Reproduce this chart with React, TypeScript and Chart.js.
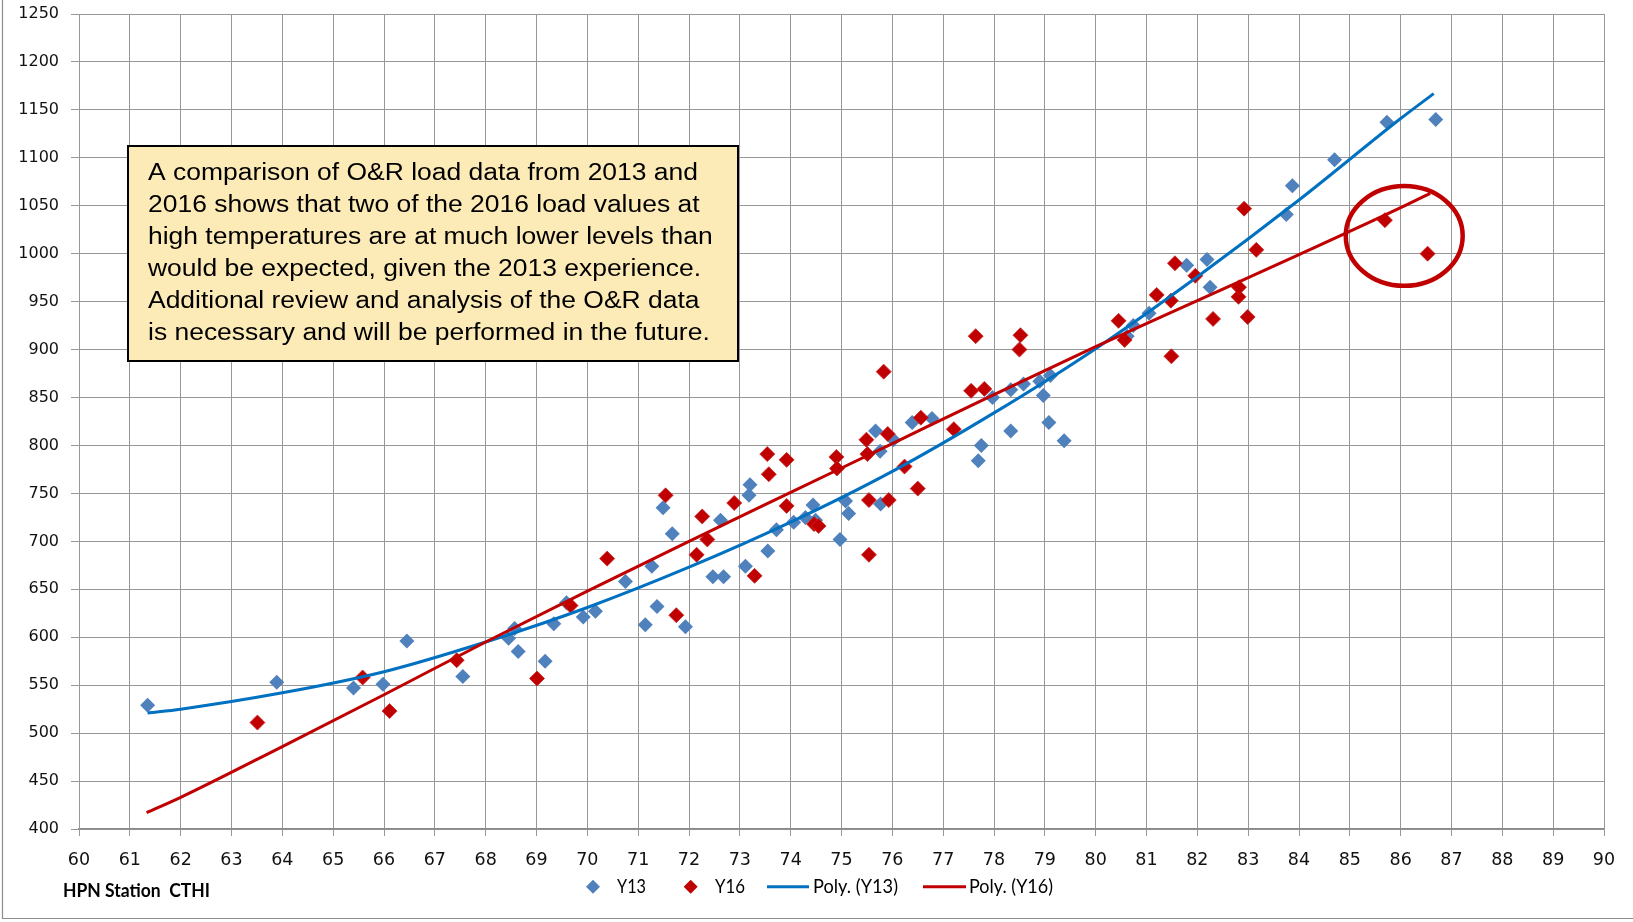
import React, { useEffect, useRef } from 'react';
import { Chart, registerables } from 'chart.js';

Chart.register(...registerables);

// ---- Data ----
const Y13_TEMP = [
  61.35, 63.89, 65.4, 65.98, 66.45, 67.55, 68.45, 68.57, 68.64, 69.17, 69.34, 69.59, 69.92, 70.16,
  70.75, 71.14, 71.27, 71.37, 71.49, 71.67, 71.93, 72.47, 72.62, 72.68, 73.11, 73.18, 73.2, 73.55,
  73.72, 74.06, 74.29, 74.44, 74.49, 74.97, 75.08, 75.14, 75.67, 75.76, 75.77, 76.02, 76.39, 76.78,
  77.69, 77.75, 77.97, 78.33, 78.33, 78.58, 78.9, 78.97, 79.08, 79.11, 79.38, 80.62, 80.74, 81.05,
  81.79, 82.19, 82.25, 83.75, 83.87, 84.7, 85.73, 86.69,
];
const Y13_LOAD = [
  529, 553, 547, 551, 596, 559, 599, 609, 585, 575, 614, 636, 621, 627,
  658, 613, 674, 632, 735, 708, 611, 663, 722, 663, 674, 748, 759, 690,
  712, 720, 725, 738, 722, 702, 742, 729, 815, 794, 739, 806, 824, 828,
  784, 800, 850, 858, 815, 864, 867, 852, 824, 873, 805, 914, 925, 938,
  988, 994, 965, 1041, 1071, 1098, 1137, 1140,
];
const Y16_TEMP = [
  63.51, 65.58, 66.11, 67.43, 69.01, 69.67, 70.39, 71.54, 71.75, 72.15, 72.26, 72.36, 72.89, 73.29,
  73.54, 73.57, 73.92, 73.92, 74.46, 74.55, 74.9, 74.91, 75.49, 75.51, 75.54, 75.54, 75.83, 75.91,
  75.93, 76.24, 76.5, 76.56, 77.21, 77.55, 77.64, 77.81, 78.5, 78.52, 80.45, 80.57, 81.2, 81.48,
  81.49, 81.56, 81.96, 82.31, 82.81, 82.82, 82.92, 82.99, 83.16, 85.69, 86.53,
];
const Y16_LOAD = [
  511, 558, 523, 576, 557, 633, 682, 748, 623, 686, 726, 702, 740, 664,
  791, 770, 785, 737, 718, 716, 788, 776, 806, 791, 743, 686, 877, 812,
  743, 778, 755, 829, 817, 857, 914, 859, 900, 915, 930, 910, 957, 951,
  893, 990, 977, 932, 955, 965, 1047, 934, 1004, 1035, 1000,
];
// Trend curves as drawn
const POLY13_TEMP = [61.35, 62, 64, 66, 68, 70, 72, 74, 76, 78, 80, 82, 84, 86, 86.65];
const POLY13_LOAD = [521, 525, 542, 564, 595, 631, 673, 720, 773, 834, 901, 976, 1056, 1141, 1167];
const POLY16_TEMP = [61.33, 62, 64, 66, 68, 70, 72, 74, 76, 78, 80, 82, 84, 86, 86.58];
const POLY16_LOAD = [417, 433, 486, 540, 595, 648, 700, 751, 802, 853, 903, 951, 999, 1048, 1063];

const X_MIN = 60;
const X_MAX = 90;
const X_STEP = 1;
const Y_MIN = 400;
const Y_MAX = 1250;
const Y_STEP = 50;

const SERIES_NAMES = ['Y13', 'Y16', 'Poly. (Y13)', 'Poly. (Y16)'];
const FOOTNOTE = 'HPN Station  CTHI';
const NOTE_LINES = [
  'A comparison of O&R load data from 2013 and',
  '2016 shows that two of the 2016 load values at',
  'high temperatures are at much lower levels than',
  'would be expected, given the 2013 experience.',
  'Additional review and analysis of the O&R data',
  'is necessary and will be performed in the future.',
];
// Highlight ellipse (data units): centre temp/load and radii
const HIGHLIGHT_CENTER = [86.07, 1018.5];
const HIGHLIGHT_RADIUS = [1.15, 52];

const BLUE_MARK = '#4F81BD';
const RED_MARK = '#C00000';
const BLUE_LINE = '#0070C0';
const RED_LINE = '#C00000';
const GRID = '#979797';

const toPoints = (xs: number[], ys: number[]) => xs.map((x, i) => ({ x, y: ys[i] }));

function fitText(ctx: CanvasRenderingContext2D, text: string, x: number, y: number, width: number, font: string, color = '#000') {
  ctx.save();
  ctx.font = font;
  ctx.fillStyle = color;
  ctx.textBaseline = 'alphabetic';
  ctx.textAlign = 'left';
  const w = ctx.measureText(text).width;
  ctx.translate(x, y);
  ctx.scale(width / w, 1);
  ctx.fillText(text, 0, 0);
  ctx.restore();
}

function diamond(ctx: CanvasRenderingContext2D, cx: number, cy: number, r: number, color: string) {
  ctx.save();
  ctx.beginPath();
  ctx.moveTo(cx - r, cy);
  ctx.lineTo(cx, cy - r);
  ctx.lineTo(cx + r, cy);
  ctx.lineTo(cx, cy + r);
  ctx.closePath();
  ctx.fillStyle = color;
  ctx.fill();
  ctx.restore();
}

const decorPlugin = {
  id: 'decor',
  afterDatasetsDraw(chart: any) {
    const { ctx, scales } = chart;
    const xs = scales.x;
    const ys = scales.y;
    const cx = xs.getPixelForValue(HIGHLIGHT_CENTER[0]);
    const cy = ys.getPixelForValue(HIGHLIGHT_CENTER[1]);
    const rx = Math.abs(xs.getPixelForValue(HIGHLIGHT_CENTER[0] + HIGHLIGHT_RADIUS[0]) - cx);
    const ry = Math.abs(ys.getPixelForValue(HIGHLIGHT_CENTER[1] + HIGHLIGHT_RADIUS[1]) - cy);
    ctx.save();
    ctx.beginPath();
    ctx.ellipse(cx, cy, rx, ry, 0, 0, Math.PI * 2);
    ctx.strokeStyle = RED_LINE;
    ctx.lineWidth = 4.5;
    ctx.stroke();
    ctx.restore();
  },
  afterDraw(chart: any) {
    const { ctx } = chart;
    // Note box
    ctx.save();
    ctx.fillStyle = '#FDEBB7';
    ctx.fillRect(128, 146, 610, 215);
    ctx.strokeStyle = '#000';
    ctx.lineWidth = 2;
    ctx.strokeRect(128, 146, 610, 215);
    ctx.restore();

    ctx.save();
    ctx.font = '23.5px "Liberation Sans", Arial, sans-serif';
    const w0 = ctx.measureText(NOTE_LINES[0]).width;
    const sx = 550 / w0;
    ctx.fillStyle = '#000';
    ctx.textBaseline = 'alphabetic';
    NOTE_LINES.forEach((line, i) => {
      ctx.save();
      ctx.translate(148, 180 + i * 32);
      ctx.scale(sx, 1);
      ctx.fillText(line, 0, 0);
      ctx.restore();
    });
    ctx.restore();

    // Footnote
    fitText(ctx, FOOTNOTE, 63, 897, 147, 'bold 18px Lato, sans-serif', '#000');

    // Legend
    const ly = 886.7;
    const lfont = '20px Lato, sans-serif';
    diamond(ctx, 593, ly, 7, BLUE_MARK);
    fitText(ctx, SERIES_NAMES[0], 617, 893.3, 29, lfont, '#000');
    diamond(ctx, 690.7, ly, 7, RED_MARK);
    fitText(ctx, SERIES_NAMES[1], 715, 893.3, 30, lfont, '#000');
    ctx.save();
    ctx.lineWidth = 3;
    ctx.strokeStyle = BLUE_LINE;
    ctx.beginPath();
    ctx.moveTo(767, ly);
    ctx.lineTo(809, ly);
    ctx.stroke();
    ctx.strokeStyle = RED_LINE;
    ctx.beginPath();
    ctx.moveTo(923, ly);
    ctx.lineTo(966, ly);
    ctx.stroke();
    ctx.restore();
    fitText(ctx, SERIES_NAMES[2], 813, 893.3, 85, lfont, '#000');
    fitText(ctx, SERIES_NAMES[3], 969, 893.3, 84, lfont, '#000');

    // Outer chart border
    ctx.save();
    ctx.strokeStyle = '#8c8c8c';
    ctx.lineWidth = 1.2;
    ctx.beginPath();
    ctx.moveTo(2.5, 0);
    ctx.lineTo(2.5, 918.5);
    ctx.lineTo(1640, 918.5);
    ctx.stroke();
    ctx.restore();
  },
};

export default function App() {
  const ref = useRef<HTMLCanvasElement>(null);
  useEffect(() => {
    if (!ref.current) return;
    const chart = new Chart(ref.current, {
      type: 'scatter',
      data: {
        datasets: [
          {
            label: SERIES_NAMES[0],
            data: toPoints(Y13_TEMP, Y13_LOAD),
            pointStyle: 'rectRot',
            pointRadius: 7.5,
            backgroundColor: BLUE_MARK,
            borderColor: BLUE_MARK,
            borderWidth: 0,
            showLine: false,
            order: 3,
          },
          {
            label: SERIES_NAMES[1],
            data: toPoints(Y16_TEMP, Y16_LOAD),
            pointStyle: 'rectRot',
            pointRadius: 7.5,
            backgroundColor: RED_MARK,
            borderColor: 'rgba(200,40,40,0.8)',
            borderWidth: 1,
            showLine: false,
            order: 2,
          },
          {
            label: SERIES_NAMES[2],
            data: toPoints(POLY13_TEMP, POLY13_LOAD),
            showLine: true,
            pointRadius: 0,
            borderColor: BLUE_LINE,
            borderWidth: 3,
            cubicInterpolationMode: 'monotone',
            fill: false,
            order: 1,
          },
          {
            label: SERIES_NAMES[3],
            data: toPoints(POLY16_TEMP, POLY16_LOAD),
            showLine: true,
            pointRadius: 0,
            borderColor: RED_LINE,
            borderWidth: 3,
            cubicInterpolationMode: 'monotone',
            fill: false,
            order: 0,
          },
        ] as any,
      },
      options: {
        responsive: false,
        animation: false,
        devicePixelRatio: 1,
        layout: { padding: { left: 0, top: 14, right: 29, bottom: 0 } },
        plugins: { legend: { display: false }, tooltip: { enabled: false } },
        scales: {
          x: {
            type: 'linear',
            min: X_MIN,
            max: X_MAX,
            ticks: {
              stepSize: X_STEP,
              autoSkip: false,
              maxRotation: 0,
              padding: 14,
              color: '#111',
              font: { family: '"DejaVu Sans", sans-serif', size: 17.5 },
              callback: (v: any) => String(v),
            },
            grid: { color: GRID, lineWidth: 1, tickLength: 7 },
            border: { color: '#8a8a8a', width: 1.5 },
            afterFit: (s: any) => {
              s.height = 93;
              s.paddingLeft = 0;
              s.paddingRight = 0;
            },
          },
          y: {
            type: 'linear',
            min: Y_MIN,
            max: Y_MAX,
            ticks: {
              stepSize: Y_STEP,
              padding: 12,
              color: '#111',
              font: { family: '"DejaVu Sans", sans-serif', size: 16 },
              callback: (v: any) => String(v),
            },
            grid: { color: GRID, lineWidth: 1, tickLength: 8 },
            border: { color: GRID, width: 1 },
            afterFit: (s: any) => {
              s.width = 79;
              s.paddingTop = 0;
              s.paddingBottom = 0;
            },
          },
        },
      } as any,
      plugins: [decorPlugin],
    });
    return () => chart.destroy();
  }, []);
  return (
    <div style={{ position: 'fixed', left: 0, top: 0, width: 1633, height: 922, background: '#fff' }}>
      <canvas ref={ref} width={1633} height={922} style={{ display: 'block' }} />
    </div>
  );
}
